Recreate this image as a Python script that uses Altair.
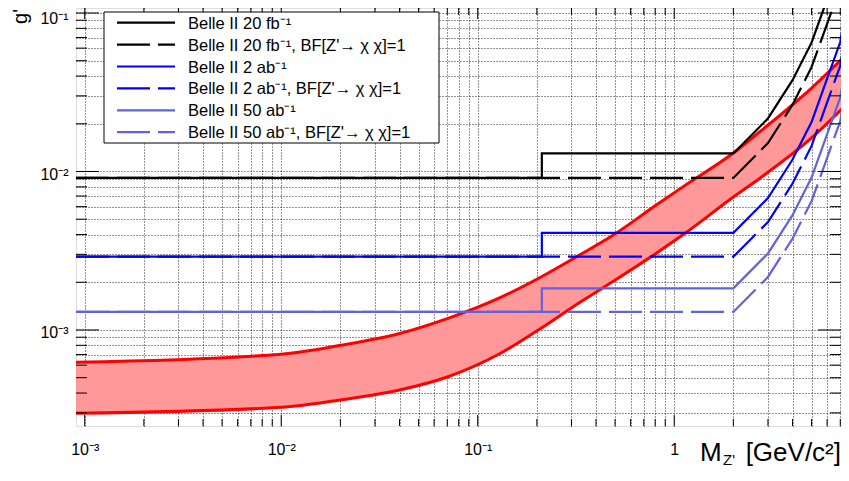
import altair as alt
import pandas as pd

# ---------------- data ----------------
X_LO, X_HI = 9.03e-4, 7.06
Y_LO, Y_HI = 2.478e-4, 0.1075

# sensitivity curves (mass in GeV, coupling g')
mass_steps = [9.03e-4, 0.212, 0.212, 2.0, 3.0, 4.0, 5.0, 6.0, 7.0, 8.0]
b20_solid = [0.0091, 0.0091, 0.0130, 0.0130, 0.0216, 0.0377, 0.065, 0.122, 0.208, 0.585]
b20_dash = [0.0091, 0.0091, 0.0091, 0.0091, 0.0151, 0.0264, 0.0455, 0.0855, 0.146, 0.41]
b2_solid = [0.0029, 0.0029, 0.0041, 0.0041, 0.0068, 0.0119, 0.0205, 0.0385, 0.0656, 0.185]
b2_dash = [0.0029, 0.0029, 0.0029, 0.0029, 0.0048, 0.0084, 0.0145, 0.0273, 0.0464, 0.13]
b50_solid = [0.0013, 0.0013, 0.00183, 0.00183, 0.00304, 0.0053, 0.00915, 0.0172, 0.0293, 0.082]
b50_dash = [0.0013, 0.0013, 0.0013, 0.0013, 0.00216, 0.00377, 0.0065, 0.0122, 0.0208, 0.0585]

# red band
band_x = [9.03e-4, 0.01, 0.02, 0.04, 0.07, 0.13, 0.21, 0.33, 0.49, 0.8, 1.14, 2.0, 2.74, 5.0, 7.66]
band_hi = [6.25e-4, 7.03e-4, 8.0e-4, 9.5e-4, 1.18e-3, 1.6e-3, 2.16e-3, 2.97e-3, 3.97e-3,
           6.07e-3, 8.2e-3, 0.01308, 0.0179, 0.0336, 0.0559]
band_lo = [2.98e-4, 3.25e-4, 3.62e-4, 4.18e-4, 5.05e-4, 7.1e-4, 1.025e-3, 1.49e-3, 2.03e-3,
           3.02e-3, 4.09e-3, 6.9e-3, 9.1e-3, 0.01627, 0.02705]

series_names = [
    "Belle II 20 fb⁻¹",
    "Belle II 20 fb⁻¹, BF[Z'→ χ χ]=1",
    "Belle II 2 ab⁻¹",
    "Belle II 2 ab⁻¹, BF[Z'→ χ χ]=1",
    "Belle II 50 ab⁻¹",
    "Belle II 50 ab⁻¹, BF[Z'→ χ χ]=1",
]
series_vals = [b20_solid, b20_dash, b2_solid, b2_dash, b50_solid, b50_dash]
series_colors = ["#000000", "#000000", "#0000ff", "#0000ff", "#6262dc", "#6262dc"]
series_dashed = [False, True, False, True, False, True]

x_major = [1e-3, 1e-2, 1e-1, 1.0]
x_minor = [m * d for d in (1e-3, 1e-2, 1e-1) for m in range(2, 10)] + [2.0, 3.0, 4.0, 5.0, 6.0, 7.0]
y_major = [1e-3, 1e-2, 1e-1]
y_minor = [m * 1e-4 for m in range(3, 10)] + [m * d for d in (1e-3, 1e-2) for m in range(2, 10)]

# ---------------- layout constants ----------------
W, H = 765, 418
FONT = "Liberation Sans"
DASH = [33, 8]

xs = alt.Scale(type="log", domain=[X_LO, X_HI], nice=False, zero=False)
ys = alt.Scale(type="log", domain=[Y_LO, Y_HI], nice=False, zero=False)

x_lab = ("datum.value==0.001?'10⁻³':datum.value==0.01?'10⁻²':"
         "datum.value==0.1?'10⁻¹':datum.value==1?'1':''")
y_lab = ("datum.value==0.001?'10⁻³':datum.value==0.01?'10⁻²':"
         "datum.value==0.1?'10⁻¹':''")

XAX = alt.Axis(values=x_major + x_minor, labelExpr=x_lab, grid=True,
               gridDash=[1, 2], gridColor="#000", gridOpacity=0.85,
               ticks=False, domain=False, labelFont=FONT, labelFontSize=16,
               labelColor="#000", labelPadding=15, labelOverlap=False,
               labelBound=False, labelFlush=False, title=None)
YAX = alt.Axis(values=y_major + y_minor, labelExpr=y_lab, grid=True,
               gridDash=[1, 2], gridColor="#000", gridOpacity=0.85,
               ticks=False, domain=False, labelFont=FONT, labelFontSize=16,
               labelColor="#000", labelPadding=8, labelOverlap=False,
               labelBound=False, labelFlush=False,
               labelOffset={"condition": {"test": "datum.value > 0.05", "value": 6}, "value": 3},
               title=None)


def X(field):
    return alt.X(field, scale=xs, axis=XAX, title=None)


def Y(field):
    return alt.Y(field, scale=ys, axis=YAX, title=None)


# red band
band_df = pd.DataFrame({"x": band_x, "hi": band_hi, "lo": band_lo})
band = alt.Chart(band_df).mark_area(color="#ff9999", interpolate="monotone", clip=True).encode(
    x=X("x:Q"), y=Y("hi:Q"), y2="lo:Q")
band_hi_line = alt.Chart(band_df).mark_line(color="#ff0000", strokeWidth=3, interpolate="monotone", clip=True).encode(
    x=X("x:Q"), y=Y("hi:Q"))
band_lo_line = alt.Chart(band_df).mark_line(color="#ff0000", strokeWidth=3, interpolate="monotone", clip=True).encode(
    x=X("x:Q"), y=Y("lo:Q"))

# sensitivity lines
line_layers = []
for name, vals, col, dashed in zip(series_names, series_vals, series_colors, series_dashed):
    df = pd.DataFrame({"x": mass_steps, "y": vals, "o": list(range(len(vals)))})
    kw = dict(color=col, strokeWidth=2.2, clip=True)
    if dashed:
        kw["strokeDash"] = DASH
    line_layers.append(
        alt.Chart(df).mark_line(**kw).encode(x=X("x:Q"), y=Y("y:Q"), order="o:Q")
    )


# inward ticks on all four sides
def xticks(vals, length):
    d = pd.DataFrame({"x": vals})
    bot = alt.Chart(d).mark_rule(color="#000", strokeWidth=1).encode(
        x=X("x:Q"), y=alt.value(H), y2=alt.value(H - length))
    top = alt.Chart(d).mark_rule(color="#000", strokeWidth=1).encode(
        x=X("x:Q"), y=alt.value(0), y2=alt.value(length))
    return [bot, top]


def yticks(vals, length):
    d = pd.DataFrame({"y": vals})
    left = alt.Chart(d).mark_rule(color="#000", strokeWidth=1).encode(
        y=Y("y:Q"), x=alt.value(0), x2=alt.value(length))
    right = alt.Chart(d).mark_rule(color="#000", strokeWidth=1).encode(
        y=Y("y:Q"), x=alt.value(W), x2=alt.value(W - length))
    return [left, right]


tick_layers = xticks(x_major, 11) + xticks(x_minor, 7) + yticks(y_major, 23) + yticks(y_minor, 11)

# legend (drawn box)
leg_df = pd.DataFrame({"k": [0]})
leg_box = alt.Chart(leg_df).mark_rect(fill="white", stroke="black", strokeWidth=1).encode(
    x=alt.value(28), x2=alt.value(363), y=alt.value(4), y2=alt.value(135))
leg_layers = [leg_box]
for i, (name, col, dashed) in enumerate(zip(series_names, series_colors, series_dashed)):
    ry = 14.7 + i * 21.9
    kw = dict(color=col, strokeWidth=2.2)
    if dashed:
        kw["strokeDash"] = DASH
    leg_layers.append(alt.Chart(leg_df).mark_rule(**kw).encode(
        x=alt.value(41), x2=alt.value(99), y=alt.value(ry)))
    leg_layers.append(alt.Chart(leg_df).mark_text(
        align="left", baseline="middle", font=FONT, fontSize=16.5, color="#000").encode(
        x=alt.value(112), y=alt.value(ry + 1), text=alt.value(name)))

# axis titles
titles = [
    alt.Chart(leg_df).mark_text(align="left", baseline="alphabetic", font=FONT, fontSize=26, color="#000").encode(
        x=alt.value(624), y=alt.value(453), text=alt.value("M")),
    alt.Chart(leg_df).mark_text(align="left", baseline="alphabetic", font=FONT, fontSize=15, color="#000").encode(
        x=alt.value(647), y=alt.value(457), text=alt.value("Z'")),
    alt.Chart(leg_df).mark_text(align="right", baseline="alphabetic", font=FONT, fontSize=26, color="#000").encode(
        x=alt.value(765), y=alt.value(453), text=alt.value("[GeV/c²]")),
    alt.Chart(leg_df).mark_text(align="right", baseline="alphabetic", font=FONT, fontSize=20, angle=270, color="#000").encode(
        x=alt.value(-49), y=alt.value(1), text=alt.value("g'")),
]

chart = alt.layer(
    band, band_hi_line, band_lo_line, *line_layers, *tick_layers, *leg_layers, *titles
).properties(
    width=W, height=H,
    autosize=alt.AutoSizeParams(type="none"),
    padding={"left": 68, "top": 0, "right": 0, "bottom": 42},
).configure_view(stroke="#000", strokeWidth=1.2).configure(background="white")

chart.save("out.html", embed_options={"renderer": "svg", "actions": False})
